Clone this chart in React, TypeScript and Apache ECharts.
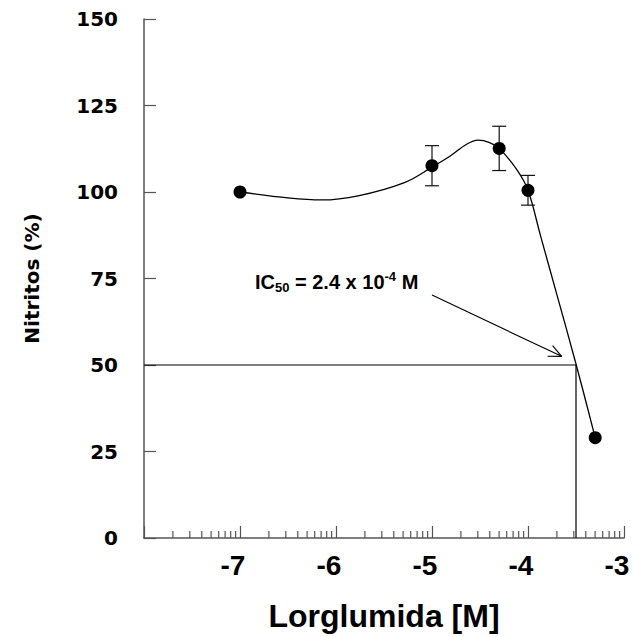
import React, { useEffect, useRef } from "react";
import * as echarts from "echarts";

// Measured points: log10 of lorglumide concentration (M) vs nitrite production (%)
const doseLog = [-7, -5, -4.3, -4, -3.3];
const nitritos = [100, 107.6, 112.6, 100.5, 29];
const sem = [0, 5.8, 6.4, 4.3, 0];

// Fitted concentration-response curve
const fitLog = [-7.0, -6.5, -6.15, -5.77, -5.28, -5.0, -4.81, -4.64, -4.52, -4.4, -4.3, -4.12, -4.0, -3.87, -3.7, -3.5, -3.3];
const fitPct = [100, 98.3, 97.7, 98.9, 102.8, 107.2, 110.4, 113.8, 115.0, 114.3, 112.6, 106.6, 100.5, 87.4, 70.4, 50.3, 29.0];

// IC50 drop lines (50 % response)
const ic50Log = -3.5;
const halfResponse = 50;

// Annotation arrow, from label to the IC50 point
const arrowFrom = [-5.0, 70.2];
const arrowTo = [-3.65, 52.5];

// Axis ranges and ticks
const xMin = -8;
const xMax = -3;
const yTicks = [0, 25, 50, 75, 100, 125, 150];
const minorSteps = [2, 3, 4, 5, 6, 7, 8, 9];

const SANS = "Liberation Sans";
const DJV = "DejaVu Sans";
const AXIS_GREY = "#555";

export default function App() {
  const ref = useRef<HTMLDivElement>(null);

  useEffect(() => {
    if (!ref.current) return;
    const chart = echarts.init(ref.current, undefined, { renderer: "svg" });

    // log-decade minor ticks along the x axis
    const minorTicks: number[][] = [];
    for (let d = xMin; d < xMax; d++) {
      minorSteps.forEach((k) => minorTicks.push([d + Math.log10(k), 0]));
    }

    const points = doseLog.map((x, i) => [x, nitritos[i]]);
    const errs = doseLog
      .map((x, i) => [x, nitritos[i], sem[i]])
      .filter((d) => d[2] > 0);
    const fit = fitLog.map((x, i) => [x, fitPct[i]]);

    chart.setOption({
      animation: false,
      grid: { left: 144, top: 19, right: 10, bottom: 96, containLabel: false },
      xAxis: {
        type: "value",
        min: xMin,
        max: xMax,
        interval: 1,
        name: "Lorglumida [M]",
        nameLocation: "middle",
        nameGap: 62,
        nameTextStyle: { fontFamily: SANS, fontWeight: "bold", fontSize: 32, color: "#000" },
        axisLine: { show: true, onZero: false, lineStyle: { color: AXIS_GREY, width: 1.5 } },
        axisTick: { show: true, inside: true, length: 12, lineStyle: { color: AXIS_GREY, width: 1.2 } },
        splitLine: { show: false },
        axisLabel: {
          margin: 13,
          padding: [0, 14, 0, 0],
          fontFamily: SANS,
          fontWeight: "bold",
          fontSize: 28,
          color: "#000",
          formatter: (v: number) => (v === xMin ? "" : String(v)),
        },
      },
      yAxis: {
        type: "value",
        min: 0,
        max: 150,
        interval: 25,
        name: "Nitritos (%)",
        nameLocation: "middle",
        nameGap: 102,
        nameTextStyle: { fontFamily: DJV, fontWeight: "bold", fontSize: 20, color: "#000" },
        axisLine: { show: true, onZero: false, lineStyle: { color: AXIS_GREY, width: 1.5 } },
        axisTick: { show: true, inside: true, length: 12, lineStyle: { color: AXIS_GREY, width: 1.2 } },
        splitLine: { show: false },
        axisLabel: {
          margin: 26,
          fontFamily: DJV,
          fontWeight: "bold",
          fontSize: 20,
          color: "#000",
          formatter: (v: number) => (yTicks.includes(v) ? String(v) : ""),
        },
      },
      series: [
        {
          type: "custom",
          name: "minorTicks",
          silent: true,
          data: minorTicks,
          renderItem: (_p: any, api: any) => {
            const p = api.coord([api.value(0), 0]);
            return {
              type: "line",
              shape: { x1: p[0], y1: p[1], x2: p[0], y2: p[1] - 7 },
              style: { stroke: AXIS_GREY, lineWidth: 1.2 },
            };
          },
        },
        {
          type: "line",
          name: "ic50",
          data: [
            [xMin, halfResponse],
            [ic50Log, halfResponse],
            [ic50Log, 0],
          ],
          showSymbol: false,
          symbol: "none",
          lineStyle: { color: "#000", width: 1.2 },
          z: 2,
        },
        {
          type: "line",
          name: "fit",
          data: fit,
          smooth: 0.35,
          showSymbol: false,
          symbol: "none",
          lineStyle: { color: "#000", width: 1.3 },
          z: 3,
        },
        {
          type: "custom",
          name: "sem",
          data: errs,
          z: 4,
          renderItem: (_p: any, api: any) => {
            const x = api.value(0);
            const y = api.value(1);
            const e = api.value(2);
            const top = api.coord([x, y + e]);
            const bot = api.coord([x, y - e]);
            const hw = 7;
            const style = { stroke: "#111", lineWidth: 1.2 };
            return {
              type: "group",
              children: [
                { type: "line", shape: { x1: top[0], y1: top[1], x2: bot[0], y2: bot[1] }, style },
                { type: "line", shape: { x1: top[0] - hw, y1: top[1], x2: top[0] + hw, y2: top[1] }, style },
                { type: "line", shape: { x1: bot[0] - hw, y1: bot[1], x2: bot[0] + hw, y2: bot[1] }, style },
              ],
            };
          },
        },
        {
          type: "scatter",
          name: "nitritos",
          data: points,
          symbol: "circle",
          symbolSize: 13,
          itemStyle: { color: "#000", opacity: 1 },
          z: 5,
        },
        {
          type: "custom",
          name: "arrow",
          data: [[arrowFrom[0], arrowFrom[1], arrowTo[0], arrowTo[1]]],
          encode: { x: [0, 2], y: [1, 3] },
          z: 4,
          renderItem: (_p: any, api: any) => {
            const a = api.coord([api.value(0), api.value(1)]);
            const b = api.coord([api.value(2), api.value(3)]);
            const ang = Math.atan2(a[1] - b[1], a[0] - b[0]);
            const len = 14;
            const spread = 0.43;
            const h1 = [b[0] + len * Math.cos(ang + spread), b[1] + len * Math.sin(ang + spread)];
            const h2 = [b[0] + len * Math.cos(ang - spread), b[1] + len * Math.sin(ang - spread)];
            const style = { stroke: "#000", lineWidth: 1.1 };
            return {
              type: "group",
              children: [
                { type: "line", shape: { x1: a[0], y1: a[1], x2: b[0], y2: b[1] }, style },
                { type: "line", shape: { x1: b[0], y1: b[1], x2: h1[0], y2: h1[1] }, style },
                { type: "line", shape: { x1: b[0], y1: b[1], x2: h2[0], y2: h2[1] }, style },
              ],
            };
          },
        },
      ],
      graphic: [
        {
          type: "text",
          x: 255,
          y: 282,
          style: {
            text: "{b|IC}{s|50}{b| = 2.4 x 10}{p|-4}{b| M}",
            verticalAlign: "middle",
            rich: {
              b: { fontFamily: SANS, fontWeight: "bold", fontSize: 20, lineHeight: 24, fill: "#000" },
              s: { fontFamily: SANS, fontWeight: "bold", fontSize: 13, lineHeight: 14, verticalAlign: "bottom", fill: "#000" },
              p: { fontFamily: SANS, fontWeight: "bold", fontSize: 13, lineHeight: 18, verticalAlign: "top", fill: "#000" },
            },
          },
        },
      ],
    });

    return () => chart.dispose();
  }, []);

  return (
    <div
      ref={ref}
      style={{ position: "fixed", left: 0, top: 0, width: 634, height: 637, background: "#fff" }}
    />
  );
}
